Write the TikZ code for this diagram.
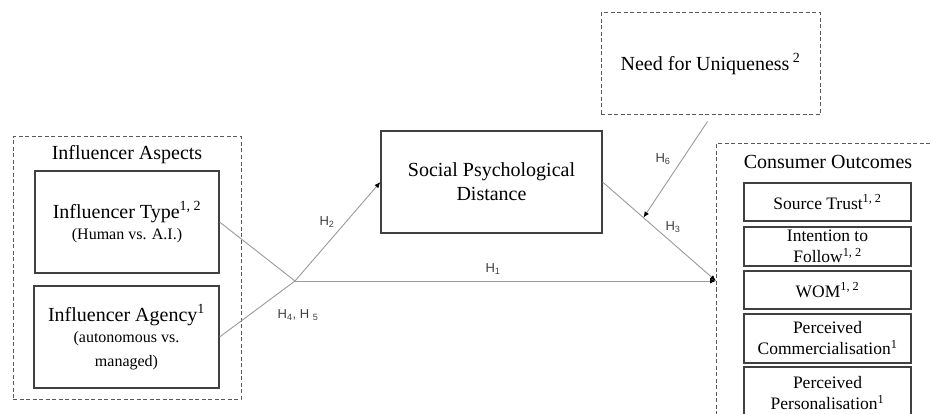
\documentclass[tikz,border=0pt]{standalone}
\usepackage{fontspec}
\setmainfont{Liberation Serif}
\setsansfont{Liberation Sans}
\usetikzlibrary{arrows.meta, calc}
\begin{document}
\begin{tikzpicture}[x=1pt, y=-1pt,
                        varbox/.style={draw=black!75, line width=1.2pt, align=center, inner sep=0pt, font=\fontsize{20}{24}\selectfont},
                        outbox/.style={varbox, minimum width=167pt, font=\fontsize{17.5}{21}\selectfont},
                        groupbox/.style={draw=black!65, line width=1pt, dash pattern=on 4pt off 2.5pt, inner sep=0pt},
                        link/.style={draw=black!40, line width=0.9pt},
                        linkarrow/.style={link, -{Latex[length=6pt, width=5pt, color=black]}},
                        hlabel/.style={font=\sffamily\fontsize{13}{13}\selectfont, text=black!75},
                        grouptitle/.style={font=\fontsize{20}{24}\selectfont}]
                        \useasboundingbox (0,0) rectangle (931,414);
                        \clip (0,0) rectangle (931,414);
                        \node[groupbox, minimum width=228pt, minimum height=262pt] (aspects) at (127,268) {};
                        \node[grouptitle] (aspectstitle) at (127,155) {Influencer Aspects};
                        \node[varbox, minimum width=184pt, minimum height=102pt] (type) at (127,222) {Influencer Type\textsuperscript{1, 2}\\[-3pt]\fontsize{16}{18}\selectfont (Human vs. A.I.)};
                        \node[varbox, minimum width=185pt, minimum height=102pt] (agency) at (126.5,337) {Influencer Agency\textsuperscript{1}\\[-3pt]\fontsize{16}{18}\selectfont (autonomous vs.\\\fontsize{16}{18}\selectfont managed)};
                        \node[varbox, minimum width=221pt, minimum height=102pt] (spd) at (491.5,182) {Social Psychological\\Distance};
                        \node[groupbox, minimum width=219pt, minimum height=102pt, font=\fontsize{20}{24}\selectfont] (nfu) at (710.5,64) {Need for Uniqueness\,\textsuperscript{2}};
                        \node[groupbox, minimum width=224pt, minimum height=286pt] (outcomes) at (828,287) {};
                        \node[grouptitle] (outcomestitle) at (828,162) {Consumer Outcomes};
                        \node[outbox, minimum height=38pt] (trust) at (827.5,202) {Source Trust\textsuperscript{1, 2}};
                        \node[outbox, minimum height=39pt] (follow) at (827.5,246.5) {Intention to\\Follow\textsuperscript{1, 2}};
                        \node[outbox, minimum height=38pt] (wom) at (827.5,290) {WOM\textsuperscript{1, 2}};
                        \node[outbox, minimum height=49pt] (comm) at (827.5,338.5) {Perceived\\Commercialisation\textsuperscript{1}};
                        \node[outbox, minimum height=53pt] (pers) at (827.5,393.5) {Perceived\\Personalisation\textsuperscript{1}};
                        \coordinate (j) at (295,281);
                        \coordinate (co) at (716,281);
                        \draw[link] (type.east) -- (j);
                        \draw[link] (agency.east) -- (j);
                        \draw[linkarrow] (j) -- (spd.west);
                        \draw[linkarrow] (j) -- (co);
                        \draw[linkarrow] (spd.east) -- (co);
                        \draw[linkarrow] ([xshift=-3pt, yshift=-6pt]nfu.south) -- ($(spd.east)!0.36!(co)$);
                        \node[hlabel] (h1) at (493,269) {H\textsubscript{1}};
                        \node[hlabel] (h2) at (327,222) {H\textsubscript{2}};
                        \node[hlabel] (h3) at (673,227) {H\textsubscript{3}};
                        \node[hlabel] (h45) at (298,315) {H\textsubscript{4}, H \textsubscript{5}};
                        \node[hlabel] (h6) at (663,159) {H\textsubscript{6}};
                    \end{tikzpicture}
\end{document}
